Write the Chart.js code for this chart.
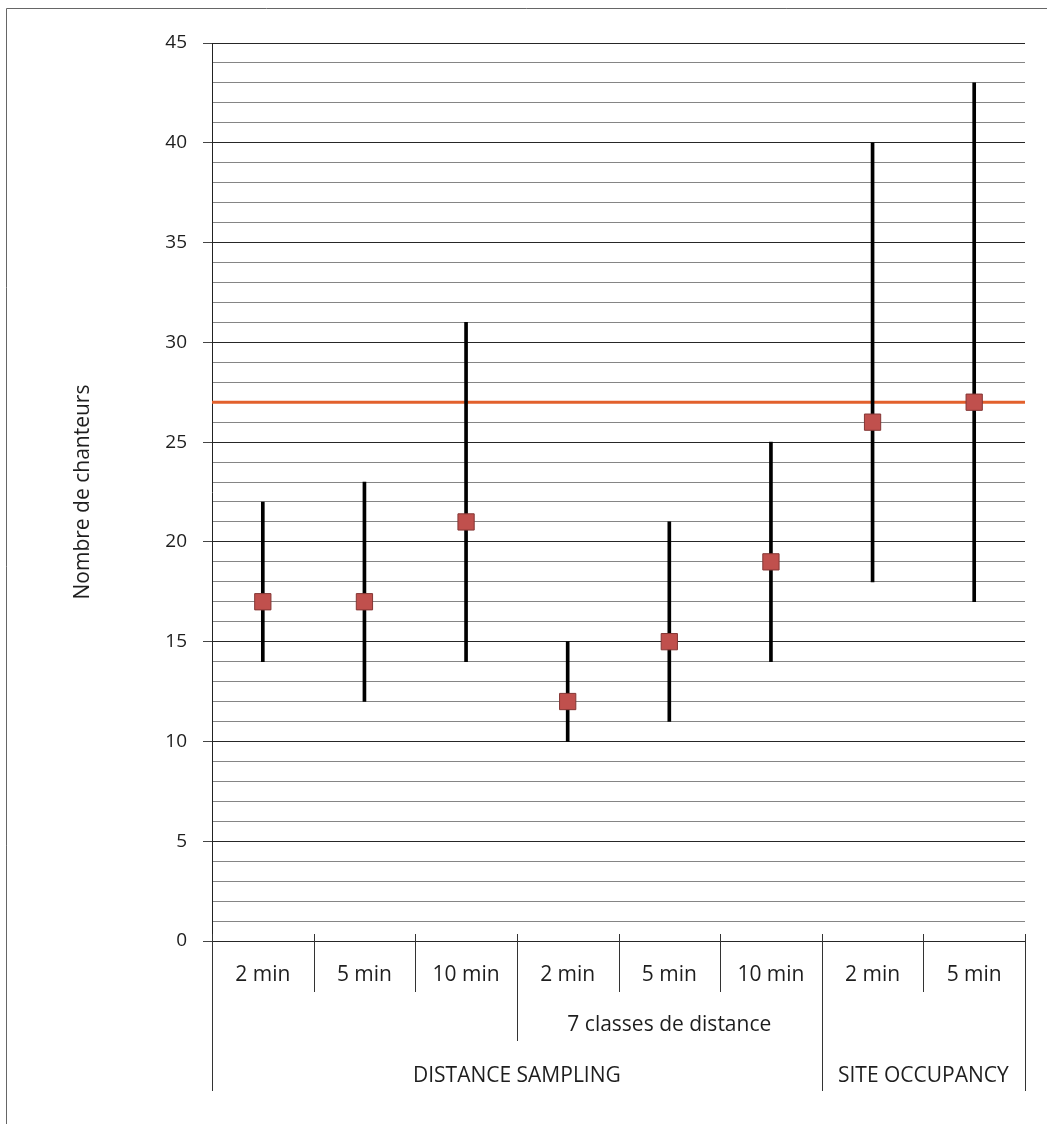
<!DOCTYPE html>
<html>
<head>
<meta charset="utf-8">
<script src="https://cdn.jsdelivr.net/npm/chart.js@4.4.0/dist/chart.umd.min.js"></script>
<style>
  html, body { margin: 0; padding: 0; background: #fff; }
  #wrap { position: relative; width: 1047px; height: 1124px; }
</style>
</head>
<body>
<div id="wrap"><canvas id="chanteursChart"></canvas></div>
<script>
// data
const durations = ['2 min', '5 min', '10 min', '2 min', '5 min', '10 min', '2 min', '5 min'];
const estimates = [17, 17, 21, 12, 15, 19, 26, 27];
const lowerBounds = [14, 12, 14, 10, 11, 14, 18, 17];
const upperBounds = [22, 23, 31, 15, 21, 25, 40, 43];
const referenceValue = 27;
// second and third label rows: [label, first index, last index]
const subGroups = [['7 classes de distance', 3, 5]];
const methodGroups = [['DISTANCE SAMPLING', 0, 5], ['SITE OCCUPANCY', 6, 7]];

const FONT = '"Open Sans", "DejaVu Sans", sans-serif';

// draws the orange reference line under the markers
const referenceLine = {
    id: 'referenceLine',
    beforeDatasetsDraw(chart) {
        const { ctx, chartArea } = chart;
        const y = chart.scales.y.getPixelForValue(referenceValue);
        ctx.save();
        ctx.strokeStyle = '#e2602c';
        ctx.lineWidth = 3;
        ctx.beginPath();
        ctx.moveTo(chartArea.left, y);
        ctx.lineTo(chartArea.right, y);
        ctx.stroke();
        ctx.restore();
    }
};

// multi-level category labels and the outer frame
const groupedLabels = {
    id: 'groupedLabels',
    afterDraw(chart) {
        const { ctx, chartArea } = chart;
        const x = chart.scales.x;
        const base = chartArea.bottom;
        const edge = i => x.getPixelForValue(i - 0.5);
        const row1 = base + 34, row2 = base + 84, row3 = base + 135;

        ctx.save();
        ctx.strokeStyle = '#333';
        ctx.lineWidth = 1;
        ctx.fillStyle = '#1e1e1e';
        ctx.font = '21px ' + FONT;
        ctx.textAlign = 'center';
        ctx.textBaseline = 'middle';

        // first row
        durations.forEach((d, i) => {
            ctx.fillText(d, x.getPixelForValue(i), row1);
        });
        // separators: length depends on how many groups end there
        for (let i = 0; i <= durations.length; i++) {
            let end = base + 51;
            if (subGroups.some(g => g[1] === i || g[2] + 1 === i)) end = base + 100;
            if (methodGroups.some(g => g[1] === i || g[2] + 1 === i)) end = base + 150;
            const px = Math.round(edge(i)) + 0.5;
            ctx.beginPath();
            ctx.moveTo(px, base - 7);
            ctx.lineTo(px, end);
            ctx.stroke();
        }
        subGroups.forEach(([label, a, b]) => {
            ctx.fillText(label, (edge(a) + edge(b + 1)) / 2, row2);
        });
        methodGroups.forEach(([label, a, b]) => {
            ctx.fillText(label, (edge(a) + edge(b + 1)) / 2, row3);
        });

        // frame
        ctx.strokeStyle = '#666';
        ctx.beginPath();
        ctx.moveTo(6.5, chart.height);
        ctx.lineTo(6.5, 8.5);
        ctx.lineTo(chart.width, 8.5);
        ctx.stroke();
        ctx.restore();
    }
};

new Chart(document.getElementById('chanteursChart'), {
    data: {
        labels: durations,
        datasets: [
            {
                type: 'bar',
                label: 'Intervalle',
                data: lowerBounds.map((lo, i) => [lo, upperBounds[i]]),
                backgroundColor: '#000',
                barThickness: 3,
                order: 2
            },
            {
                type: 'line',
                label: 'Estimation',
                data: estimates,
                showLine: false,
                pointStyle: 'rect',
                pointRadius: 11.5,
                pointHoverRadius: 11.5,
                pointBackgroundColor: '#c0504d',
                pointBorderColor: '#843634',
                pointBorderWidth: 1,
                order: 1
            }
        ]
    },
    options: {
        responsive: true,
        maintainAspectRatio: false,
        animation: false,
        layout: { padding: { top: 43, right: 22, left: 0, bottom: 0 } },
        plugins: {
            legend: { display: false },
            tooltip: { enabled: false }
        },
        scales: {
            x: {
                ticks: { display: false },
                grid: { display: false },
                border: { display: false },
                afterFit(scale) { scale.height = 183; }
            },
            y: {
                min: 0,
                max: 45,
                border: { color: '#222', width: 1 },
                grid: {
                    color: c => c.tick.value % 5 === 0 ? '#262626' : '#858585',
                    tickColor: c => c.tick.value % 5 === 0 ? '#444' : 'rgba(0,0,0,0)',
                    tickLength: 9,
                    lineWidth: 1
                },
                ticks: {
                    stepSize: 1,
                    maxTicksLimit: 50,
                    autoSkip: false,
                    padding: 16,
                    color: '#1e1e1e',
                    font: { family: FONT, size: 19 },
                    callback: v => v % 5 === 0 ? v : ''
                },
                title: {
                    display: true,
                    text: 'Nombre de chanteurs',
                    color: '#1e1e1e',
                    font: { family: FONT, size: 21 },
                    padding: { top: 70, bottom: 0 }
                },
                afterFit(scale) { scale.width = 212; }
            }
        }
    },
    plugins: [referenceLine, groupedLabels]
});
</script>
</body>
</html>
